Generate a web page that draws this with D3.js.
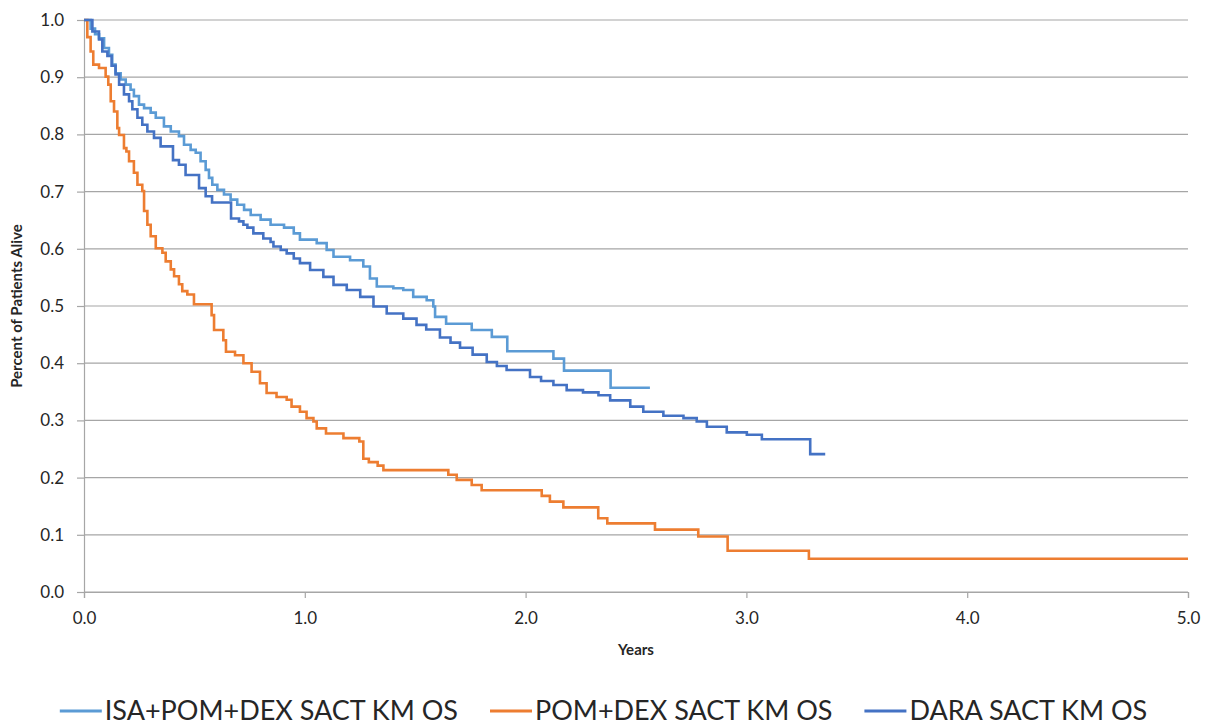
<!DOCTYPE html>
<html>
<head>
<meta charset="utf-8">
<script src="https://cdn.jsdelivr.net/npm/d3@7"></script>
<style>
  body { margin: 0; background: #fff; }
  text { font-family: Lato, "Open Sans", sans-serif; fill: #262626; }
</style>
</head>
<body>
<div id="chart"></div>
<script>
// Kaplan-Meier overall survival: [years, survival]
const isaPomDex = [
  [0, 1.0], [0.03, 0.985], [0.05, 0.975], [0.068, 0.968], [0.091, 0.951], [0.113, 0.939],
  [0.128, 0.922], [0.143, 0.907], [0.166, 0.896], [0.189, 0.887], [0.211, 0.878], [0.226, 0.867],
  [0.249, 0.852], [0.272, 0.846], [0.302, 0.838], [0.325, 0.829], [0.362, 0.814], [0.393, 0.805],
  [0.430, 0.797], [0.453, 0.782], [0.483, 0.773], [0.506, 0.768], [0.528, 0.753], [0.551, 0.738],
  [0.566, 0.724], [0.581, 0.712], [0.604, 0.703], [0.634, 0.695], [0.664, 0.686], [0.694, 0.677],
  [0.725, 0.668], [0.755, 0.659], [0.800, 0.651], [0.845, 0.642], [0.906, 0.637], [0.950, 0.627],
  [0.978, 0.616], [1.054, 0.610], [1.099, 0.598], [1.130, 0.586], [1.205, 0.580], [1.265, 0.569],
  [1.295, 0.548], [1.326, 0.534], [1.401, 0.531], [1.446, 0.528], [1.491, 0.516], [1.552, 0.510],
  [1.582, 0.499], [1.590, 0.481], [1.640, 0.469], [1.756, 0.458], [1.847, 0.446], [1.917, 0.421],
  [2.126, 0.408], [2.174, 0.387], [2.385, 0.357], [2.563, 0.357]
];

const pomDex = [
  [0, 1.0], [0.015, 0.97], [0.030, 0.945], [0.042, 0.922], [0.068, 0.916], [0.098, 0.901],
  [0.110, 0.887], [0.121, 0.858], [0.136, 0.840], [0.151, 0.811], [0.159, 0.799], [0.181, 0.776],
  [0.192, 0.770], [0.204, 0.753], [0.226, 0.733], [0.242, 0.712], [0.264, 0.701], [0.272, 0.666],
  [0.287, 0.642], [0.302, 0.622], [0.325, 0.601], [0.355, 0.593], [0.370, 0.578], [0.393, 0.564],
  [0.408, 0.552], [0.430, 0.538], [0.445, 0.526], [0.468, 0.520], [0.498, 0.503], [0.578, 0.484],
  [0.589, 0.458], [0.631, 0.440], [0.643, 0.420], [0.684, 0.414], [0.722, 0.400], [0.759, 0.385],
  [0.797, 0.365], [0.827, 0.348], [0.872, 0.341], [0.918, 0.336], [0.940, 0.324], [0.978, 0.315],
  [1.008, 0.304], [1.039, 0.298], [1.054, 0.286], [1.096, 0.277], [1.175, 0.269], [1.247, 0.263],
  [1.265, 0.233], [1.290, 0.227], [1.330, 0.221], [1.356, 0.213], [1.650, 0.205], [1.688, 0.196],
  [1.756, 0.187], [1.801, 0.178], [2.073, 0.168], [2.110, 0.158], [2.171, 0.148], [2.329, 0.129],
  [2.370, 0.120], [2.586, 0.109], [2.782, 0.097], [2.915, 0.072], [3.283, 0.058], [5.0, 0.058]
];

const dara = [
  [0, 1.0], [0.038, 0.98], [0.068, 0.966], [0.083, 0.945], [0.106, 0.937], [0.125, 0.920],
  [0.143, 0.905], [0.159, 0.887], [0.181, 0.870], [0.204, 0.858], [0.219, 0.844], [0.242, 0.829],
  [0.264, 0.817], [0.287, 0.805], [0.317, 0.794], [0.347, 0.779], [0.403, 0.755], [0.430, 0.747],
  [0.460, 0.729], [0.521, 0.706], [0.551, 0.692], [0.580, 0.681], [0.666, 0.653], [0.702, 0.648],
  [0.722, 0.642], [0.740, 0.637], [0.767, 0.627], [0.812, 0.618], [0.845, 0.612], [0.858, 0.604],
  [0.891, 0.598], [0.918, 0.592], [0.950, 0.583], [0.978, 0.575], [1.024, 0.563], [1.084, 0.551],
  [1.130, 0.537], [1.190, 0.528], [1.251, 0.516], [1.311, 0.499], [1.371, 0.487], [1.446, 0.478],
  [1.506, 0.467], [1.550, 0.459], [1.612, 0.445], [1.660, 0.436], [1.703, 0.427], [1.760, 0.415],
  [1.824, 0.402], [1.870, 0.395], [1.914, 0.388], [2.020, 0.376], [2.070, 0.369], [2.126, 0.362],
  [2.186, 0.353], [2.260, 0.349], [2.330, 0.344], [2.383, 0.335], [2.474, 0.324], [2.533, 0.315],
  [2.624, 0.308], [2.715, 0.304], [2.775, 0.298], [2.821, 0.289], [2.911, 0.279], [3.002, 0.275],
  [3.070, 0.267], [3.289, 0.241], [3.357, 0.241]
];

const seriesNames = ['ISA+POM+DEX SACT KM OS', 'POM+DEX SACT KM OS', 'DARA SACT KM OS'];
const seriesColors = ['#5B9BD5', '#ED7D31', '#4472C4'];
const xTicks = [0, 1, 2, 3, 4, 5];
const yTicks = [0, 0.1, 0.2, 0.3, 0.4, 0.5, 0.6, 0.7, 0.8, 0.9, 1.0];

var width = 1207, height = 726;
var margin = {top: 20, right: 19, bottom: 134, left: 84};

const svg = d3.select('#chart')
    .append('svg')
    .attr('width', width)
    .attr('height', height);

const x = d3.scaleLinear().domain([0, 5]).range([margin.left, width - margin.right]);
const y = d3.scaleLinear().domain([0, 1]).range([height - margin.bottom, margin.top]);

// horizontal gridlines
svg.append('g')
    .selectAll('line')
    .data(yTicks)
    .join('line')
    .attr('x1', margin.left)
    .attr('x2', width - margin.right)
    .attr('y1', d => y(d))
    .attr('y2', d => y(d))
    .attr('stroke', '#a6a6a6')
    .attr('stroke-width', 1.2);

const yAxis = svg.append('g')
    .attr('transform', 'translate(' + margin.left + ',0)')
    .call(d3.axisLeft(y).tickValues(yTicks).tickFormat(d3.format('.1f')).tickSize(7).tickPadding(13));

const xAxis = svg.append('g')
    .attr('transform', 'translate(0,' + (height - margin.bottom) + ')')
    .call(d3.axisBottom(x).tickValues(xTicks).tickFormat(d3.format('.1f')).tickSize(6).tickPadding(14));

[yAxis, xAxis].forEach(function(ax) {
  ax.select('.domain').attr('stroke', '#a6a6a6').attr('stroke-width', 1.2);
  ax.selectAll('.tick line').attr('stroke', '#a6a6a6').attr('stroke-width', 1.2);
  ax.selectAll('.tick text')
      .attr('font-family', 'Lato, sans-serif')
      .attr('font-size', 17)
      .attr('fill', '#262626');
});

svg.append('text')
    .attr('x', 636)
    .attr('y', 655)
    .attr('text-anchor', 'middle')
    .attr('font-size', 15)
    .attr('font-weight', 'bold')
    .text('Years');

svg.append('text')
    .attr('transform', 'translate(22,306) rotate(-90)')
    .attr('text-anchor', 'middle')
    .attr('font-size', 15)
    .attr('font-weight', 'bold')
    .text('Percent of Patients Alive');

// survival curves
const line = d3.line()
    .x(d => x(d[0]))
    .y(d => y(d[1]))
    .curve(d3.curveStepAfter);

[isaPomDex, pomDex, dara].forEach(function(data, i) {
  svg.append('path')
      .datum(data)
      .attr('fill', 'none')
      .attr('stroke', seriesColors[i])
      .attr('stroke-width', 2.6)
      .attr('d', line);
});

// legend, centred under the plot
const legend = svg.append('g').attr('transform', 'translate(0,711)');
const items = legend.selectAll('g')
    .data(seriesNames)
    .join('g');
items.append('line')
    .attr('x1', 0).attr('x2', 42)
    .attr('stroke', (d, i) => seriesColors[i])
    .attr('stroke-width', 3);
items.append('text')
    .attr('x', 45)
    .attr('y', 9)
    .attr('font-size', 27)
    .attr('fill', '#000')
    .text(d => d);

var widths = [];
items.each(function() {
  widths.push(45 + d3.select(this).select('text').node().getComputedTextLength());
});
const gap = 32;
const total = d3.sum(widths) + gap * (widths.length - 1);
let cursor = (width - total) / 2;
items.attr('transform', function(d, i) {
  const pos = cursor;
  cursor += widths[i] + gap;
  return 'translate(' + pos + ',0)';
});
</script>
</body>
</html>
